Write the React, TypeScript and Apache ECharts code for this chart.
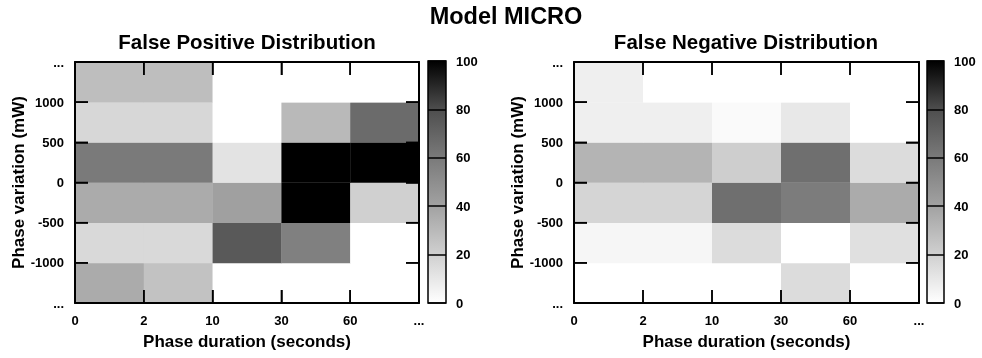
import React, { useEffect, useRef } from "react";
import * as echarts from "echarts";

// Column bins (phase duration) and row bins (phase variation)
const xTickLabels = ["0", "2", "10", "30", "60", "..."];
const yTickLabels = ["...", "-1000", "-500", "0", "500", "1000", "..."];

// Values per row, bottom row (below -1000) first, columns 0-2, 2-10, 10-30, 30-60, 60-...
const fpRow0 = [36, 26, 0, 0, 0];
const fpRow1 = [16, 16, 75, 57, 0];
const fpRow2 = [36, 36, 41, 100, 20];
const fpRow3 = [60, 60, 12, 100, 100];
const fpRow4 = [17, 17, 0, 30, 67];
const fpRow5 = [28, 28, 0, 0, 0];

const fnRow0 = [0, 0, 0, 15, 0];
const fnRow1 = [4, 4, 15, 0, 13];
const fnRow2 = [18, 18, 65, 59, 36];
const fnRow3 = [32, 32, 21, 65, 15];
const fnRow4 = [7, 7, 2, 10, 0];
const fnRow5 = [7, 0, 0, 0, 0];

const colorMin = 0;
const colorMax = 100;
const grayStops = ["#ffffff", "#d0d0d0", "#a2a2a2", "#7a7a7a", "#4e4e4e", "#000000"];

const FONT = "Liberation Sans, Arial, Helvetica, sans-serif";
const X_MAX = xTickLabels.length - 1;
const Y_MAX = yTickLabels.length - 1;
const TICK_LEN = 13;

function toCells(rows: number[][]) {
  const out: number[][] = [];
  rows.forEach((row, r) => row.forEach((v, c) => out.push([c, r, v])));
  return out;
}

const fpData = toCells([fpRow0, fpRow1, fpRow2, fpRow3, fpRow4, fpRow5]);
const fnData = toCells([fnRow0, fnRow1, fnRow2, fnRow3, fnRow4, fnRow5]);
const xTickData = xTickLabels.map((_, i) => [i, 0]);
const yTickData = yTickLabels.map((_, i) => [0, i]);

const labelStyle = { color: "#000", fontFamily: FONT, fontWeight: "bold" as const, fontSize: 13 };
const nameStyle = { color: "#000", fontFamily: FONT, fontWeight: "bold" as const, fontSize: 17 };

function xAxis(gridIndex: number, position: "bottom" | "top", showLabel: boolean) {
  return {
    type: "value",
    gridIndex,
    position,
    min: 0,
    max: X_MAX,
    interval: 1,
    zlevel: 1,
    axisLine: { show: true, onZero: false, lineStyle: { color: "#000", width: 2 } },
    axisTick: { show: true, inside: true, length: TICK_LEN, lineStyle: { color: "#000", width: 1.5 } },
    axisLabel: {
      show: showLabel,
      margin: 11,
      formatter: (v: number) => xTickLabels[Math.round(v)],
      ...labelStyle,
    },
    splitLine: { show: false },
    name: showLabel ? "Phase duration (seconds)" : undefined,
    nameLocation: "middle",
    nameGap: 30,
    nameTextStyle: nameStyle,
  };
}

function yAxis(gridIndex: number, position: "left" | "right", showLabel: boolean) {
  return {
    type: "value",
    gridIndex,
    position,
    min: 0,
    max: Y_MAX,
    interval: 1,
    zlevel: 1,
    axisLine: { show: true, onZero: false, lineStyle: { color: "#000", width: 2 } },
    axisTick: { show: true, inside: true, length: TICK_LEN, lineStyle: { color: "#000", width: 1.5 } },
    axisLabel: {
      show: showLabel,
      margin: 11,
      formatter: (v: number) => yTickLabels[Math.round(v)],
      ...labelStyle,
    },
    splitLine: { show: false },
    name: showLabel ? "Phase variation (mW)" : undefined,
    nameLocation: "middle",
    nameGap: 45,
    nameTextStyle: nameStyle,
  };
}

function cbYAxis(gridIndex: number) {
  return {
    type: "value",
    gridIndex,
    position: "right",
    min: colorMin,
    max: colorMax,
    interval: 20,
    zlevel: 1,
    axisLine: { show: false },
    axisTick: { show: false },
    axisLabel: { margin: 10, ...labelStyle },
    splitLine: { show: true, lineStyle: { color: "#000", width: 1.5 } },
  };
}

function cbXAxis(gridIndex: number) {
  return { type: "value", gridIndex, min: 0, max: 1, show: false };
}

const cellRender = (params: any, api: any) => {
  const x = api.value(0);
  const y = api.value(1);
  const p0 = api.coord([x, y]);
  const p1 = api.coord([x + 1, y + 1]);
  return {
    type: "rect",
    shape: { x: p0[0], y: p1[1], width: p1[0] - p0[0] + 0.3, height: p0[1] - p1[1] + 0.3 },
    style: { fill: api.visual("color") },
  };
};

const tickStyle = { stroke: "#000", lineWidth: 1.5 };

const xTickRender = (params: any, api: any) => {
  const v = api.value(0);
  const b = api.coord([v, 0]);
  const t = api.coord([v, Y_MAX]);
  return {
    type: "group",
    children: [
      { type: "line", shape: { x1: b[0], y1: b[1], x2: b[0], y2: b[1] - TICK_LEN }, style: tickStyle },
      { type: "line", shape: { x1: t[0], y1: t[1], x2: t[0], y2: t[1] + TICK_LEN }, style: tickStyle },
    ],
  };
};

const yTickRender = (params: any, api: any) => {
  const v = api.value(1);
  const l = api.coord([0, v]);
  const r = api.coord([X_MAX, v]);
  return {
    type: "group",
    children: [
      { type: "line", shape: { x1: l[0], y1: l[1], x2: l[0] + TICK_LEN, y2: l[1] }, style: tickStyle },
      { type: "line", shape: { x1: r[0], y1: r[1], x2: r[0] - TICK_LEN, y2: r[1] }, style: tickStyle },
    ],
  };
};

const colorbarRender = (params: any, api: any) => {
  const p0 = api.coord([0, api.value(0)]);
  const p1 = api.coord([1, api.value(1)]);
  const stops = grayStops.map((c, i) => ({ offset: i / (grayStops.length - 1), color: c }));
  return {
    type: "rect",
    shape: { x: p0[0], y: p1[1], width: p1[0] - p0[0], height: p0[1] - p1[1] },
    style: {
      fill: new echarts.graphic.LinearGradient(0, 1, 0, 0, stops),
      stroke: "#000",
      lineWidth: 1.5,
    },
  };
};

export default function App() {
  const ref = useRef<HTMLDivElement>(null);
  useEffect(() => {
    if (!ref.current) return;
    const chart = echarts.init(ref.current, undefined, { renderer: "svg" });
    chart.setOption({
      animation: false,
      title: [
        {
          text: "Model MICRO",
          left: 506,
          textAlign: "center",
          top: 4,
          padding: 0,
          textStyle: { color: "#000", fontFamily: FONT, fontWeight: "bold", fontSize: 23.5 },
        },
        {
          text: "False Positive Distribution",
          left: 247,
          textAlign: "center",
          top: 31,
          padding: 0,
          textStyle: { color: "#000", fontFamily: FONT, fontWeight: "bold", fontSize: 20.5 },
        },
        {
          text: "False Negative Distribution",
          left: 746,
          textAlign: "center",
          top: 31,
          padding: 0,
          textStyle: { color: "#000", fontFamily: FONT, fontWeight: "bold", fontSize: 20.5 },
        },
      ],
      grid: [
        { left: 75, top: 62, width: 344, height: 241 },
        { left: 574, top: 62, width: 345, height: 241 },
        { left: 428, top: 61, width: 18, height: 242 },
        { left: 927, top: 61, width: 17, height: 242 },
      ],
      xAxis: [
        xAxis(0, "bottom", true),
        xAxis(0, "top", false),
        xAxis(1, "bottom", true),
        xAxis(1, "top", false),
        cbXAxis(2),
        cbXAxis(3),
      ],
      yAxis: [
        yAxis(0, "left", true),
        yAxis(0, "right", false),
        yAxis(1, "left", true),
        yAxis(1, "right", false),
        cbYAxis(2),
        cbYAxis(3),
      ],
      visualMap: [
        { type: "continuous", show: false, seriesIndex: 0, dimension: 2, min: colorMin, max: colorMax, inRange: { color: grayStops } },
        { type: "continuous", show: false, seriesIndex: 1, dimension: 2, min: colorMin, max: colorMax, inRange: { color: grayStops } },
      ],
      series: [
        { type: "custom", name: "False Positive", xAxisIndex: 0, yAxisIndex: 0, renderItem: cellRender, data: fpData, encode: { x: 0, y: 1 } },
        { type: "custom", name: "False Negative", xAxisIndex: 2, yAxisIndex: 2, renderItem: cellRender, data: fnData, encode: { x: 0, y: 1 } },
        { type: "custom", xAxisIndex: 4, yAxisIndex: 4, renderItem: colorbarRender, data: [[colorMin, colorMax]], encode: { y: [0, 1] } },
        { type: "custom", xAxisIndex: 5, yAxisIndex: 5, renderItem: colorbarRender, data: [[colorMin, colorMax]], encode: { y: [0, 1] } },
        { type: "custom", z: 5, xAxisIndex: 0, yAxisIndex: 0, renderItem: xTickRender, data: xTickData, encode: { x: 0, y: 1 } },
        { type: "custom", z: 5, xAxisIndex: 0, yAxisIndex: 0, renderItem: yTickRender, data: yTickData, encode: { x: 0, y: 1 } },
        { type: "custom", z: 5, xAxisIndex: 2, yAxisIndex: 2, renderItem: xTickRender, data: xTickData, encode: { x: 0, y: 1 } },
        { type: "custom", z: 5, xAxisIndex: 2, yAxisIndex: 2, renderItem: yTickRender, data: yTickData, encode: { x: 0, y: 1 } },
      ],
    });
    return () => chart.dispose();
  }, []);
  return <div ref={ref} style={{ position: "fixed", left: 0, top: 0, width: 982, height: 358 }} />;
}
